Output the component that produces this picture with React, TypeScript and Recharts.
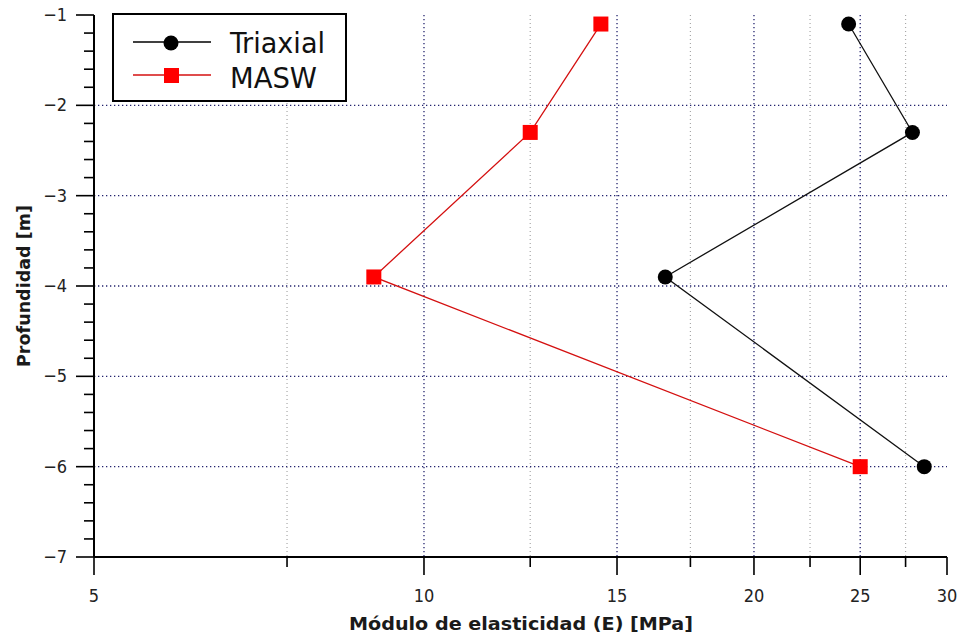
import React from 'react';
import { LineChart, Line, XAxis, YAxis, CartesianGrid, Legend } from 'recharts';

const triaxialE = [24.4, 27.9, 16.6, 28.6];
const triaxialDepth = [-1.1, -2.3, -3.9, -6.0];
const maswE = [14.5, 12.5, 9.0, 25.0];
const maswDepth = [-1.1, -2.3, -3.9, -6.0];

const xTicks = [5, 7.5, 10, 12.5, 15, 17.5, 20, 22.5, 25, 27.5, 30];
const xLabelTicks = [5, 10, 15, 20, 25, 30];
const xMajorGrid = [10, 15, 20, 25];
const xMinorGrid = [7.5, 12.5, 17.5, 22.5, 27.5];
const yTicks = [
  -7, -6.8, -6.6, -6.4, -6.2, -6, -5.8, -5.6, -5.4, -5.2, -5, -4.8, -4.6, -4.4, -4.2,
  -4, -3.8, -3.6, -3.4, -3.2, -3, -2.8, -2.6, -2.4, -2.2, -2, -1.8, -1.6, -1.4, -1.2, -1,
];
const yLabelTicks = [-7, -6, -5, -4, -3, -2, -1];
const yGrid = [-6, -5, -4, -3, -2];

const seriesNames = ['Triaxial', 'MASW'];
const xTitle = 'Módulo de elasticidad (E) [MPa]';
const yTitle = 'Profundidad [m]';

const triaxialData = triaxialE.map((e, i) => ({ e, d: triaxialDepth[i] }));
const maswData = maswE.map((e, i) => ({ e, d: maswDepth[i] }));

const FONT = "'DejaVu Sans Condensed', 'DejaVu Sans', sans-serif";
const RED = '#ff0000';
const RED_LINE = '#d41010';
const NAVY = '#23236e';
const GRAY = '#a8a8a8';

const XTick = (props: any) => {
  const { x, y, payload } = props;
  const v = payload.value;
  const major = xLabelTicks.some((t) => Math.abs(t - v) < 1e-6);
  return (
    <g>
      <line x1={x} x2={x} y1={y} y2={y + (major ? 18 : 10)} stroke="#000" strokeWidth={1.6} />
      {major && (
        <text x={x} y={y + 45} textAnchor="middle" fontFamily={FONT} fontSize={18} fill="#222">
          {String(v)}
        </text>
      )}
    </g>
  );
};

const YTick = (props: any) => {
  const { x, y, payload } = props;
  const v = payload.value;
  const major = yLabelTicks.some((t) => Math.abs(t - v) < 1e-6);
  return (
    <g>
      <line x1={x - (major ? 18 : 10)} x2={x} y1={y} y2={y} stroke="#000" strokeWidth={1.6} />
      {major && (
        <text x={x - 27} y={y + 6} textAnchor="end" fontFamily={FONT} fontSize={18} fill="#222">
          {'\u2212' + String(Math.abs(Math.round(v)))}
        </text>
      )}
    </g>
  );
};

const CircleDot = (props: any) => {
  const { cx, cy, index } = props;
  return <circle key={`c${index}`} cx={cx} cy={cy} r={7.5} fill="#000" stroke="none" />;
};

const SquareDot = (props: any) => {
  const { cx, cy, index } = props;
  return <rect key={`s${index}`} x={cx - 7.5} y={cy - 7.5} width={15} height={15} fill={RED} stroke="none" />;
};

const LegendBox = () => (
  <svg width={236} height={90} style={{ display: 'block' }}>
    <rect x={1} y={1} width={233} height={87} fill="#fff" stroke="#000" strokeWidth={2} />
    <line x1={21} x2={99} y1={29} y2={29} stroke="#000" strokeWidth={1.5} />
    <circle cx={59} cy={30} r={7.5} fill="#000" />
    <text x={118} y={40} fontFamily={FONT} fontSize={28} fill="#111" textLength={95} lengthAdjust="spacingAndGlyphs">
      {seriesNames[0]}
    </text>
    <line x1={21} x2={99} y1={62} y2={62} stroke={RED_LINE} strokeWidth={1.5} />
    <rect x={52} y={55} width={15} height={15} fill={RED} />
    <text x={118} y={75} fontFamily={FONT} fontSize={28} fill="#111" textLength={87} lengthAdjust="spacingAndGlyphs">
      {seriesNames[1]}
    </text>
  </svg>
);

export default function App() {
  return (
    <div style={{ position: 'absolute', left: 0, top: 0, background: '#fff' }}>
      <LineChart width={962} height={639} margin={{ top: 15, right: 15, bottom: 22, left: 14 }}>
        <CartesianGrid
          horizontal={false}
          vertical
          verticalValues={xMinorGrid}
          stroke={GRAY}
          strokeDasharray="1 3"
          strokeWidth={1.2}
        />
        <CartesianGrid
          horizontal
          vertical
          verticalValues={xMajorGrid}
          horizontalValues={yGrid}
          stroke={NAVY}
          strokeDasharray="1.3 2.7"
          strokeWidth={1.3}
        />
        <XAxis
          type="number"
          dataKey="e"
          scale="log"
          domain={[5, 30]}
          ticks={xTicks}
          interval={0}
          allowDataOverflow
          height={60}
          tickSize={0}
          tickMargin={0}
          tickLine={false}
          axisLine={{ stroke: '#000', strokeWidth: 2 }}
          tick={<XTick />}
        />
        <YAxis
          type="number"
          dataKey="d"
          domain={[-7, -1]}
          ticks={yTicks}
          interval={0}
          allowDataOverflow
          width={80}
          tickSize={0}
          tickMargin={0}
          tickLine={false}
          axisLine={{ stroke: '#000', strokeWidth: 2 }}
          tick={<YTick />}
        />
        <Legend
          layout="horizontal"
          verticalAlign="middle"
          align="center"
          content={() => <LegendBox />}
          wrapperStyle={{ position: 'absolute', left: 112, top: 13, width: 236, height: 90 }}
        />
        <Line
          data={triaxialData}
          dataKey="d"
          name={seriesNames[0]}
          stroke="#111"
          strokeWidth={1.3}
          dot={<CircleDot />}
          activeDot={false}
          isAnimationActive={false}
        />
        <Line
          data={maswData}
          dataKey="d"
          name={seriesNames[1]}
          stroke={RED_LINE}
          strokeWidth={1.3}
          dot={<SquareDot />}
          activeDot={false}
          isAnimationActive={false}
        />
        <text
          x={521}
          y={630}
          textAnchor="middle"
          fontFamily={FONT}
          fontWeight="bold"
          fontSize={18}
          fill="#1a1a1a"
          textLength={344}
          lengthAdjust="spacingAndGlyphs"
        >
          {xTitle}
        </text>
        <text
          x={30}
          y={286}
          transform="rotate(-90 30 286)"
          textAnchor="middle"
          fontFamily={FONT}
          fontWeight="bold"
          fontSize={18}
          fill="#1a1a1a"
          textLength={162}
          lengthAdjust="spacingAndGlyphs"
        >
          {yTitle}
        </text>
      </LineChart>
    </div>
  );
}
